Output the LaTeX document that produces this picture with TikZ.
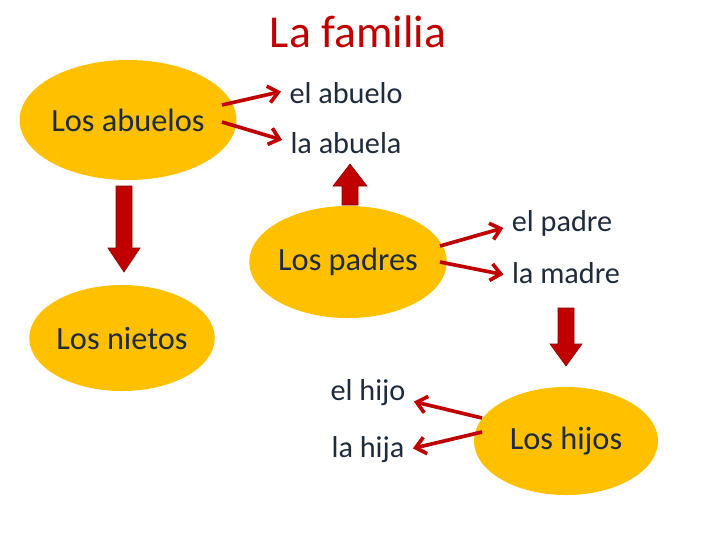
\documentclass[tikz,border=0pt]{standalone}
\usepackage{fontspec}
\setmainfont{Carlito}
\usetikzlibrary{arrows.meta,shapes.geometric}
\definecolor{gold}{HTML}{FFC000}
\definecolor{dred}{HTML}{C00000}
\definecolor{txt}{HTML}{1F2A3A}
\tikzset{
  ell/.style={ellipse, fill=gold, inner sep=0pt, font=\fontsize{23}{26}\selectfont, text=txt},
  word/.style={font=\fontsize{21.5}{24}\selectfont, text=txt, inner sep=1pt},
  link/.style={draw=dred, line width=2.6pt, shorten >=5pt, -{Straight Barb[length=7pt,width=12pt]}},
  blk/.style={fill=dred, draw=dred!70!black, line width=0.4pt}
}
\begin{document}
\begin{tikzpicture}[x=0.025cm,y=-0.025cm]
\useasboundingbox (0,0) rectangle (720,540);
\node[font=\fontsize{32.5}{36}\selectfont, text=dred] (title) at (358,32) {La familia};
\node[ell, minimum width=4.6cm, minimum height=3cm] (abuelos) at (128,120) {Los abuelos};
\node[ell, minimum width=4.5cm, minimum height=2.8cm] (padres) at (348,262) {Los padres};
\node[ell, minimum width=4.5cm, minimum height=2.65cm] (nietos) at (122,338) {Los nietos};
\node[ell, minimum width=4.6cm, minimum height=2.7cm] (hijos) at (566,441) {Los hijos};
\node[word] (abuelo) at (346,93) {el abuelo};
\node[word] (abuela) at (346,143) {la abuela};
\node[word] (padre) at (562,223) {el padre};
\node[word] (madre) at (566,273) {la madre};
\node[word] (hijo) at (368,393) {el hijo};
\node[word] (hija) at (368,450) {la hija};
\coordinate (a1) at (222,105); \coordinate (a2) at (222,122);
\draw[link] (a1) -- (abuelo.west |- 0,90) ;
\draw[link] (a2) -- (abuela.west |- 0,142);
\coordinate (p1) at (440,246); \coordinate (p2) at (440,262);
\draw[link] (p1) -- (padre.west |- 0,226);
\draw[link] (p2) -- (madre.west |- 0,276);
\coordinate (h1) at (482,418); \coordinate (h2) at (482,432);
\draw[link] (h1) -- (hijo.east |- 0,400);
\draw[link] (h2) -- (hija.east |- 0,450);
% block arrows
\path[blk] (116,186) -- (132,186) -- (132,248) -- (140,248) -- (124,272) -- (108,248) -- (116,248) -- cycle;
\path[blk] (342,205) -- (358,205) -- (358,186) -- (367,186) -- (350,164) -- (333,186) -- (342,186) -- cycle;
\path[blk] (558,308) -- (574,308) -- (574,344) -- (582,344) -- (566,366) -- (550,344) -- (558,344) -- cycle;
\end{tikzpicture}
\end{document}
